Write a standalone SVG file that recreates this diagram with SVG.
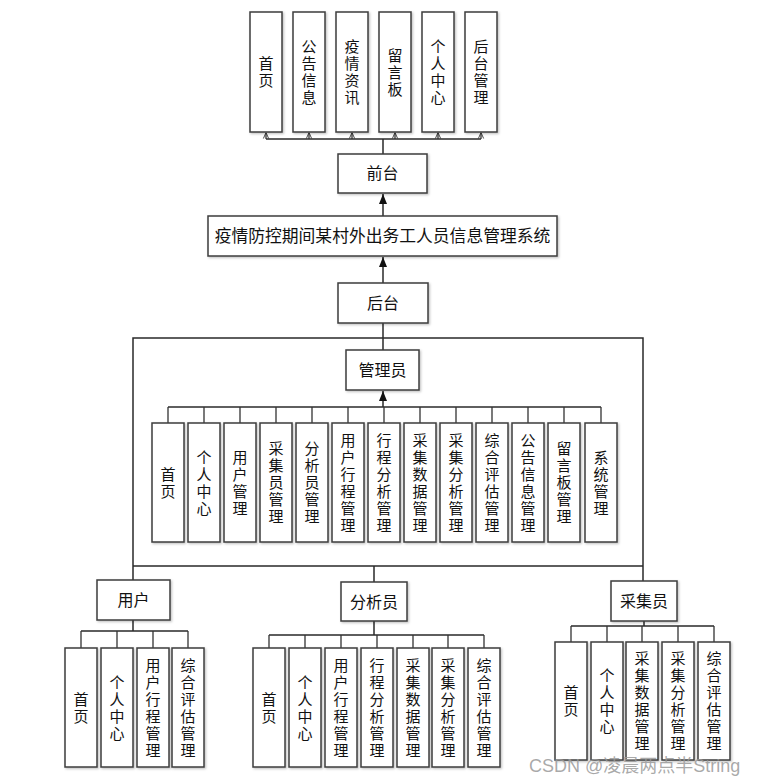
<svg xmlns="http://www.w3.org/2000/svg" width="766" height="784" viewBox="0 0 766 784">
<style>
.box{fill:#fff;stroke:#3c3c3c;stroke-width:1.5;filter:url(#sh)}
.t{font-family:"Noto Sans CJK SC","Noto Sans CJK JP",sans-serif;font-size:15px;fill:#111;text-anchor:middle}
.v{writing-mode:vertical-rl;letter-spacing:2px}
.h{font-size:16px}
.ln{stroke:#2a2a2a;stroke-width:1.5;fill:none}
.cl{stroke:#333;stroke-width:1.3;fill:none}
.wm{font-family:"Liberation Sans","Noto Sans CJK SC",sans-serif;font-size:18px;fill:#9a9a9a;fill-opacity:0.85}
</style>
<defs>
<filter id="sh" x="-20%" y="-20%" width="140%" height="140%"><feDropShadow dx="1.2" dy="1.2" stdDeviation="0.8" flood-color="#000" flood-opacity="0.25"/></filter>
<marker id="arr" viewBox="0 0 10 8" refX="10" refY="4" markerWidth="10" markerHeight="8" markerUnits="userSpaceOnUse" orient="auto"><path d="M0,0 L10,4 L0,8 z" fill="#111"/></marker>
<marker id="oarr" viewBox="0 0 8 8" refX="8" refY="4" markerWidth="6" markerHeight="8" markerUnits="userSpaceOnUse" orient="auto"><path d="M0,0.5 L8,4 L0,7.5" fill="none" stroke="#333" stroke-width="1.2"/></marker>
</defs>
<rect width="766" height="784" fill="#fff"/>

<g id="connectors">
<path class="ln" d="M266,139 H481 M383,139 V154"/>
<path class="cl" d="M266,139 V132.5" marker-end="url(#oarr)"/>
<path class="cl" d="M309,139 V132.5" marker-end="url(#oarr)"/>
<path class="cl" d="M352,139 V132.5" marker-end="url(#oarr)"/>
<path class="cl" d="M395,139 V132.5" marker-end="url(#oarr)"/>
<path class="cl" d="M438,139 V132.5" marker-end="url(#oarr)"/>
<path class="cl" d="M481,139 V132.5" marker-end="url(#oarr)"/>
<path class="ln" d="M383,216 V194" marker-end="url(#arr)"/>
<path class="ln" d="M383,283 V257" marker-end="url(#arr)"/>
<path class="ln" d="M383,323 V350"/>
<path class="ln" d="M133,580 V338 H643 V581"/>
<path class="ln" d="M133,566 H643 M374,566 V582"/>
<path class="ln" d="M383,407 V391" marker-end="url(#arr)"/>
<path class="ln" d="M168,407 H601"/>
<path class="cl" d="M168,407 V423 M204,407 V423 M240,407 V423 M276,407 V423 M312,407 V423 M348,407 V423 M384,407 V423 M420,407 V423 M456,407 V423 M492,407 V423 M528,407 V423 M564,407 V423 M601,407 V423"/>
<path class="ln" d="M133,620 V631 M81,631 H188"/>
<path class="cl" d="M81,631 V648 M117,631 V648 M153,631 V648 M188,631 V648"/>
<path class="ln" d="M374,621 V635 M269,635 H484"/>
<path class="cl" d="M269,635 V648 M305,635 V648 M341,635 V648 M377,635 V648 M413,635 V648 M448,635 V648 M484,635 V648"/>
<path class="ln" d="M644,621 V626 M571,626 H714"/>
<path class="cl" d="M571,626 V642 M607,626 V642 M642,626 V642 M678,626 V642 M714,626 V642"/>
</g>

<g id="top-home"><rect class="box" x="250" y="12" width="32" height="120"/><text class="t v" x="266" y="73">首页</text></g>
<g id="top-notice"><rect class="box" x="293" y="12" width="32" height="120"/><text class="t v" x="309" y="73">公告信息</text></g>
<g id="top-news"><rect class="box" x="336" y="12" width="32" height="120"/><text class="t v" x="352" y="73">疫情资讯</text></g>
<g id="top-board"><rect class="box" x="379" y="12" width="32" height="120"/><text class="t v" x="395" y="73">留言板</text></g>
<g id="top-personal"><rect class="box" x="422" y="12" width="32" height="120"/><text class="t v" x="438" y="73">个人中心</text></g>
<g id="top-admin"><rect class="box" x="465" y="12" width="32" height="120"/><text class="t v" x="481" y="73">后台管理</text></g>

<g id="front"><rect class="box" x="338" y="154" width="89" height="39"/><text class="t h" x="382.5" y="179">前台</text></g>
<g id="system"><rect class="box" x="208" y="216" width="349" height="40"/><text class="t" style="font-size:16.8px" x="382.5" y="242">疫情防控期间某村外出务工人员信息管理系统</text></g>
<g id="back"><rect class="box" x="338" y="283" width="90" height="40"/><text class="t h" x="383" y="309">后台</text></g>
<g id="admin"><rect class="box" x="346" y="350" width="73" height="40"/><text class="t h" x="382.5" y="376">管理员</text></g>

<g id="a1"><rect class="box" x="152" y="423" width="32" height="119"/><text class="t v" x="168" y="483.5">首页</text></g>
<g id="a2"><rect class="box" x="188" y="423" width="32" height="119"/><text class="t v" x="204" y="483.5">个人中心</text></g>
<g id="a3"><rect class="box" x="224" y="423" width="32" height="119"/><text class="t v" x="240" y="483.5">用户管理</text></g>
<g id="a4"><rect class="box" x="260" y="423" width="32" height="119"/><text class="t v" x="276" y="483.5">采集员管理</text></g>
<g id="a5"><rect class="box" x="296" y="423" width="32" height="119"/><text class="t v" x="312" y="483.5">分析员管理</text></g>
<g id="a6"><rect class="box" x="332" y="423" width="32" height="119"/><text class="t v" x="348" y="483.5">用户行程管理</text></g>
<g id="a7"><rect class="box" x="368" y="423" width="32" height="119"/><text class="t v" x="384" y="483.5">行程分析管理</text></g>
<g id="a8"><rect class="box" x="404" y="423" width="32" height="119"/><text class="t v" x="420" y="483.5">采集数据管理</text></g>
<g id="a9"><rect class="box" x="440" y="423" width="32" height="119"/><text class="t v" x="456" y="483.5">采集分析管理</text></g>
<g id="a10"><rect class="box" x="476" y="423" width="32" height="119"/><text class="t v" x="492" y="483.5">综合评估管理</text></g>
<g id="a11"><rect class="box" x="512" y="423" width="32" height="119"/><text class="t v" x="528" y="483.5">公告信息管理</text></g>
<g id="a12"><rect class="box" x="548" y="423" width="32" height="119"/><text class="t v" x="564" y="483.5">留言板管理</text></g>
<g id="a13"><rect class="box" x="585" y="423" width="32" height="119"/><text class="t v" x="601" y="483.5">系统管理</text></g>

<g id="user"><rect class="box" x="97" y="580" width="73" height="40"/><text class="t h" x="133.5" y="606">用户</text></g>
<g id="analyst"><rect class="box" x="341" y="582" width="66" height="39"/><text class="t h" x="374" y="607.5">分析员</text></g>
<g id="collector"><rect class="box" x="611" y="581" width="66" height="40"/><text class="t h" x="644" y="607">采集员</text></g>

<g id="u1"><rect class="box" x="65" y="648" width="32" height="119"/><text class="t v" x="81" y="708.5">首页</text></g>
<g id="u2"><rect class="box" x="101" y="648" width="32" height="119"/><text class="t v" x="117" y="708.5">个人中心</text></g>
<g id="u3"><rect class="box" x="137" y="648" width="32" height="119"/><text class="t v" x="153" y="708.5">用户行程管理</text></g>
<g id="u4"><rect class="box" x="172" y="648" width="32" height="119"/><text class="t v" x="188" y="708.5">综合评估管理</text></g>

<g id="n1"><rect class="box" x="253" y="648" width="32" height="119"/><text class="t v" x="269" y="708.5">首页</text></g>
<g id="n2"><rect class="box" x="289" y="648" width="32" height="119"/><text class="t v" x="305" y="708.5">个人中心</text></g>
<g id="n3"><rect class="box" x="325" y="648" width="32" height="119"/><text class="t v" x="341" y="708.5">用户行程管理</text></g>
<g id="n4"><rect class="box" x="361" y="648" width="32" height="119"/><text class="t v" x="377" y="708.5">行程分析管理</text></g>
<g id="n5"><rect class="box" x="397" y="648" width="32" height="119"/><text class="t v" x="413" y="708.5">采集数据管理</text></g>
<g id="n6"><rect class="box" x="432" y="648" width="32" height="119"/><text class="t v" x="448" y="708.5">采集分析管理</text></g>
<g id="n7"><rect class="box" x="468" y="648" width="32" height="119"/><text class="t v" x="484" y="708.5">综合评估管理</text></g>

<g id="c1"><rect class="box" x="555" y="642" width="32" height="118"/><text class="t v" x="571" y="702">首页</text></g>
<g id="c2"><rect class="box" x="591" y="642" width="32" height="118"/><text class="t v" x="607" y="702">个人中心</text></g>
<g id="c3"><rect class="box" x="626" y="642" width="32" height="118"/><text class="t v" x="642" y="702">采集数据管理</text></g>
<g id="c4"><rect class="box" x="662" y="642" width="32" height="118"/><text class="t v" x="678" y="702">采集分析管理</text></g>
<g id="c5"><rect class="box" x="698" y="642" width="32" height="118"/><text class="t v" x="714" y="702">综合评估管理</text></g>

<text class="wm" x="529" y="772">CSDN @凌晨两点半String</text>
</svg>
